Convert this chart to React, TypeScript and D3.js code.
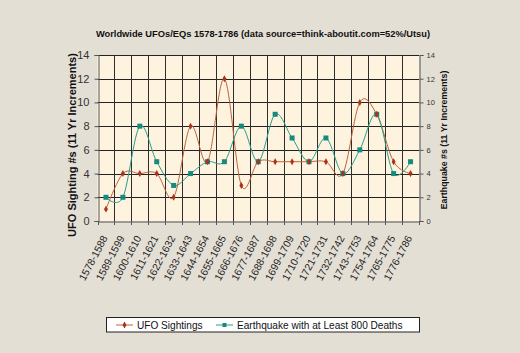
import React, { useEffect, useRef } from 'react';
import * as d3 from 'd3';

const categories = [
  '1578-1588', '1589-1599', '1600-1610', '1611-1621', '1622-1632', '1633-1643',
  '1644-1654', '1655-1665', '1666-1676', '1677-1687', '1688-1698', '1699-1709',
  '1710-1720', '1721-1731', '1732-1742', '1743-1753', '1754-1764', '1765-1775', '1776-1786',
];
const ufoSightings = [1, 4, 4, 4, 2, 8, 5, 12, 3, 5, 5, 5, 5, 5, 4, 10, 9, 5, 4];
const earthquakes = [2, 2, 8, 5, 3, 4, 5, 5, 8, 5, 9, 7, 5, 7, 4, 6, 9, 4, 5];
const yTicks = [0, 2, 4, 6, 8, 10, 12, 14];

const FONT = 'Arial, "Liberation Sans", sans-serif';

const App: React.FC = () => {
  const ref = useRef<SVGSVGElement | null>(null);

  useEffect(() => {
    const W = 520, H = 353;
    const left = 97.5, right = 419, top = 55, bottom = 221;

    const svg = d3.select(ref.current);
    svg.selectAll('*').remove();
    svg.attr('width', W).attr('height', H);

    svg.append('rect').attr('width', W).attr('height', H).attr('fill', '#e4dfd5');

    const x = d3.scaleBand<string>().domain(categories).range([left, right]);
    const y = d3.scaleLinear().domain([0, 14]).range([bottom, top]);
    const cx = (i: number) => x(categories[i])! + x.bandwidth() / 2;

    // plot area
    svg.append('rect')
      .attr('x', left).attr('y', top)
      .attr('width', right - left).attr('height', bottom - top)
      .attr('fill', '#fdf3df');

    // horizontal grid
    svg.append('g').selectAll('line').data(yTicks.slice(1)).enter().append('line')
      .attr('x1', left).attr('x2', right)
      .attr('y1', d => Math.round(y(d)) + 0.5).attr('y2', d => Math.round(y(d)) + 0.5)
      .attr('stroke', '#222').attr('stroke-width', 1);

    // vertical grid at category boundaries
    const bounds = categories.map(c => x(c)!).slice(1);
    svg.append('g').selectAll('line').data(bounds).enter().append('line')
      .attr('x1', d => Math.round(d) + 0.5).attr('x2', d => Math.round(d) + 0.5)
      .attr('y1', top).attr('y2', bottom)
      .attr('stroke', '#2e2e2e').attr('stroke-width', 1);

    // left axis
    const yl = svg.append('g').attr('transform', `translate(${Math.round(left) + 0.5},0)`)
      .call(d3.axisLeft(y).tickValues(yTicks).tickSize(4).tickPadding(5));
    yl.selectAll('text').attr('font-family', FONT)
      .attr('font-size', 11).attr('fill', '#333');
    yl.selectAll('line,path').attr('stroke', '#555');

    // right axis
    const yr = svg.append('g').attr('transform', `translate(${Math.round(right) + 0.5},0)`)
      .call(d3.axisRight(y).tickValues(yTicks).tickSize(4).tickPadding(3));
    yr.selectAll('text').attr('font-family', FONT)
      .attr('font-size', 7.5).attr('fill', '#333');
    yr.selectAll('line,path').attr('stroke', '#555');

    // bottom axis
    const xa = svg.append('g').attr('transform', `translate(0,${Math.round(bottom) + 0.5})`)
      .call(d3.axisBottom(x).tickValues([]).tickSizeOuter(0));
    xa.select('path').attr('stroke', '#555');
    svg.append('g').selectAll('line').data(categories.map(c => x(c)!).concat([right])).enter().append('line')
      .attr('x1', d => Math.round(d) + 0.5).attr('x2', d => Math.round(d) + 0.5)
      .attr('y1', bottom).attr('y2', bottom + 4)
      .attr('stroke', '#555');

    svg.append('g').selectAll('text').data(categories).enter().append('text')
      .attr('transform', (_d, i) => `translate(${cx(i) + 2},${bottom + 17}) rotate(-62)`)
      .attr('text-anchor', 'end')
      .attr('font-family', FONT)
      .attr('font-size', 10.3).attr('fill', '#222')
      .text(d => d);

    const line = d3.line<number>()
      .x((_d, i) => cx(i))
      .y(d => y(d))
      .curve(d3.curveCardinal.tension(0));

    const ufoColor = '#c0623a';
    const eqColor = '#2a9d8c';

    svg.append('path').datum(ufoSightings).attr('d', line)
      .attr('fill', 'none').attr('stroke', ufoColor).attr('stroke-width', 1);
    svg.append('path').datum(earthquakes).attr('d', line)
      .attr('fill', 'none').attr('stroke', eqColor).attr('stroke-width', 1);

    svg.append('g').selectAll('rect').data(earthquakes).enter().append('rect')
      .attr('x', (_d, i) => cx(i) - 2.5).attr('y', d => y(d) - 2.5)
      .attr('width', 5).attr('height', 5).attr('fill', '#178a80');

    const diamond = d3.symbol().type(d3.symbolDiamond).size(14);
    svg.append('g').selectAll('path').data(ufoSightings).enter().append('path')
      .attr('transform', (d, i) => `translate(${cx(i)},${y(d)})`)
      .attr('d', diamond).attr('fill', '#a8341c');

    // titles
    svg.append('text')
      .attr('x', 263).attr('y', 37).attr('text-anchor', 'middle')
      .attr('font-family', FONT)
      .attr('font-size', 9.3).attr('font-weight', 'bold').attr('fill', '#111')
      .text('Worldwide UFOs/EQs 1578-1786 (data source=think-aboutit.com=52%/Utsu)');

    svg.append('text')
      .attr('transform', `translate(76,145) rotate(-90)`)
      .attr('text-anchor', 'middle')
      .attr('font-family', FONT)
      .attr('font-size', 11).attr('font-weight', 'bold').attr('fill', '#111')
      .text('UFO Sighting #s (11 Yr Increments)');

    svg.append('text')
      .attr('transform', `translate(447,${(top + bottom) / 2 + 2}) rotate(-90)`)
      .attr('text-anchor', 'middle')
      .attr('font-family', FONT)
      .attr('font-size', 8.8).attr('font-weight', 'bold').attr('fill', '#111')
      .text('Earthquake #s (11 Yr Increments)');

    // legend
    const lg = svg.append('g');
    lg.append('rect').attr('x', 106.5).attr('y', 317.5).attr('width', 313).attr('height', 14.5)
      .attr('fill', '#ffffff').attr('stroke', '#222');
    const items = [
      { label: 'UFO Sightings', color: ufoColor, x: 116, sym: 'd' },
      { label: 'Earthquake with at Least 800 Deaths', color: eqColor, x: 216, sym: 's' },
    ];
    items.forEach(it => {
      lg.append('line').attr('x1', it.x).attr('x2', it.x + 17).attr('y1', 325).attr('y2', 325)
        .attr('stroke', it.color);
      if (it.sym === 'd') {
        lg.append('path').attr('transform', `translate(${it.x + 8.5},325)`).attr('d', diamond).attr('fill', '#a8341c');
      } else {
        lg.append('rect').attr('x', it.x + 6.5).attr('y', 323).attr('width', 4).attr('height', 4).attr('fill', '#178a80');
      }
      lg.append('text').attr('x', it.x + 21).attr('y', 328.5)
        .attr('font-family', FONT)
        .attr('font-size', 10.1).attr('fill', '#111').text(it.label);
    });
  }, []);

  return (
    <div style={{ position: 'absolute', left: 0, top: 0 }}>
      <svg ref={ref} style={{ display: 'block' }}></svg>
    </div>
  );
};

export default App;
